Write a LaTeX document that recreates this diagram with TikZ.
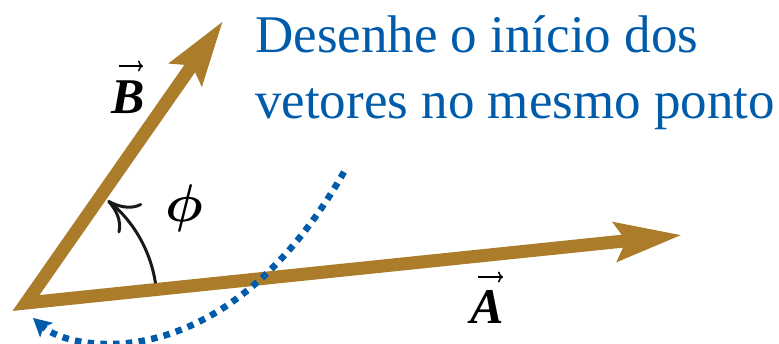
\documentclass[tikz,border=0pt]{standalone}
\usepackage{amsmath}
\usepackage{fontspec}
\setmainfont{Liberation Serif}
\usetikzlibrary{arrows.meta,calc}
\definecolor{vecgold}{RGB}{171,124,41}
\definecolor{noteblue}{RGB}{0,91,170}
\begin{document}
\begin{tikzpicture}[x=1pt,y=-1pt,
  vecpair/.style={draw=vecgold, line width=13pt, line join=miter,
    {Stealth[length=64pt,width=38pt,inset=10pt]}-{Stealth[length=66pt,width=38pt,inset=10pt]}},
  anglearc/.style={draw=black!90, line width=3pt,
    -{Computer Modern Rightarrow[length=30pt,width=38pt,line width=3pt]}},
  dotcurve/.style={draw=noteblue, line width=6.5pt, dash pattern=on 6.5pt off 6.3pt,
    -{Stealth[length=18pt,width=19pt,inset=4pt]}},
  veclabel/.style={font=\fontsize{50}{50}\selectfont\bfseries\itshape, inner sep=0pt, anchor=base},
  vecmark/.style={draw=black, line width=1.5pt, -{Computer Modern Rightarrow[length=5pt,width=11pt,line width=1.5pt]}},
  note/.style={font=\fontsize{53}{60}\selectfont, text=noteblue, inner sep=0pt, anchor=base west}]
\useasboundingbox (0,0) rectangle (779,343);
% vectors
\coordinate (O) at (26,303);
\coordinate (Atip) at (682,235);
\coordinate (Btip) at (223,21);
\draw[vecpair] (Btip) -- (O) -- (Atip);
% angle arc
\coordinate (arcS) at ($(O)+(-8.7:131)$);
\draw[anglearc] (arcS) arc[start angle=-8.7, end angle=-51.5, radius=131];
\node[inner sep=0pt, scale=5.3] (phi) at (184,208.5) {$\boldsymbol{\phi}$};
% dotted curve
\coordinate (dS) at (344,172);
\coordinate (dE) at (33,318);
\draw[dotcurve] (dS) .. controls (224,382) and (70,351) .. (dE);
% labels
\node[veclabel] (lB) at (128,113) {B};
\coordinate (bmL) at (119,66);
\coordinate (bmR) at (143,66);
\draw[vecmark] (bmL) -- (bmR);
\node[veclabel] (lA) at (487,323) {A};
\coordinate (amL) at (478,277);
\coordinate (amR) at (503,277);
\draw[vecmark] (amL) -- (amR);
% note text
\node[note] (t1) at (255,52) {Desenhe o início dos};
\node[note] (t2) at (255,118) {vetores no mesmo ponto};
\end{tikzpicture}
\end{document}
